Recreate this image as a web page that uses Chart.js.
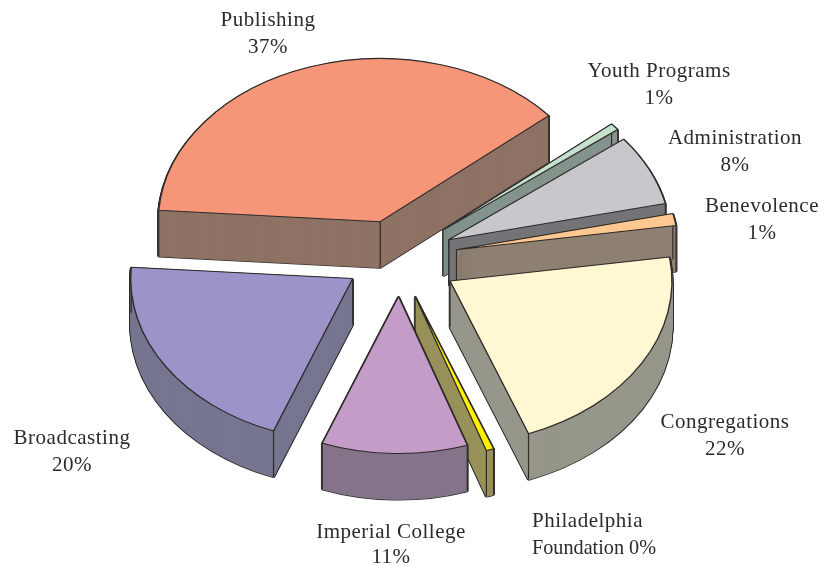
<!DOCTYPE html>
<html>
<head>
<meta charset="utf-8">
<title>Budget pie</title>
<script src="https://cdn.jsdelivr.net/npm/chart.js@4"></script>
<style>
  html, body { margin: 0; padding: 0; background: #fff; }
  #wrap { position: relative; width: 830px; height: 566px; }
</style>
</head>
<body>
<div id="wrap"><canvas id="budgetChart" width="830" height="566"></canvas></div>
<script>
// Data, clockwise starting at the Publishing slice
const categories = ["Publishing", "Youth Programs", "Administration", "Benevolence", "Congregations", "Philadelphia Foundation", "Imperial College", "Broadcasting"];
const shares = [37.6, 0.7, 7.0, 1.2, 21.6, 0.55, 11.0, 20.3];
const percentLabels = ["37%", "1%", "8%", "1%", "22%", "0%", "11%", "20%"];

const topColors = ["#f69679", "#c5e0cc", "#c8c8cc", "#ffc890", "#fff8d2", "#fff000", "#c49cc8", "#9c94c8"];
const wallColors = ["#8e7264", "#84948c", "#757578", "#8e8072", "#96968a", "#97915a", "#85748a", "#767690"];

// Fake 3D settings
const SQUASH = 0.735;
const DEPTH = 46;
const EDGE = "#2e2a2a";
const explode = [52, 60, 58, 61, 62, 55, 52, 52];
const nudgeX = [0, 0, 0, 0, 0, 0, 3, 0];
const reach = [222, 222, 222, 222, 222, 222, 214, 222];
// back slices first so the front ones paint over them
const paintOrder = [0, 1, 2, 3, 7, 4, 5, 6];

// Where the text goes, [x, y, text, align, max width]
const labelSpots = [
  [268, 20, categories[0]], [268, 47, percentLabels[0]],
  [659, 71, categories[1]], [659, 98, percentLabels[1]],
  [735, 138, categories[2]], [735, 165, percentLabels[2]],
  [762, 206, categories[3]], [762, 233, percentLabels[3]],
  [725, 422, categories[4]], [725, 449, percentLabels[4]],
  [532, 521, "Philadelphia", "left"], [532, 548, "Foundation " + percentLabels[5], "left", 124],
  [391, 532, categories[6]], [391, 557, percentLabels[6]],
  [72, 438, categories[7]], [72, 465, percentLabels[7]],
];

// Draw one arc squashed into an ellipse, pushed out along its middle angle
function paintArc(chart, arc, index, drop, opts) {
  const ctx = chart.ctx;
  const mid = (arc.startAngle + arc.endAngle) / 2;
  const saved = arc.options;
  ctx.save();
  ctx.translate(arc.x + nudgeX[index], arc.y + drop);
  ctx.scale(1, SQUASH);
  ctx.translate(-arc.x, -arc.y);
  ctx.translate(Math.cos(mid) * explode[index], Math.sin(mid) * explode[index]);
  arc.options = { ...saved, ...opts };
  arc.draw(ctx);
  arc.options = saved;
  ctx.restore();
}

// Vertical edge of the wall, below a point of the squashed slice
function wallEdge(chart, arc, index, angle, radius) {
  const ctx = chart.ctx;
  const mid = (arc.startAngle + arc.endAngle) / 2;
  const px = arc.x + nudgeX[index] + Math.cos(mid) * explode[index] + Math.cos(angle) * radius;
  const py = arc.y + (Math.sin(mid) * explode[index] + Math.sin(angle) * radius) * SQUASH;
  ctx.beginPath();
  ctx.moveTo(px, py);
  ctx.lineTo(px, py + DEPTH);
  ctx.strokeStyle = EDGE;
  ctx.lineWidth = 1.2;
  ctx.stroke();
}

const pie3d = {
  id: "pie3d",
  beforeDatasetsDraw(chart) {
    const arcs = chart.getDatasetMeta(0).data;
    paintOrder.forEach((i) => {
      const arc = arcs[i];
      arc.outerRadius = reach[i];
      // dark silhouette first, then the wall colour over it
      for (let d = DEPTH; d > 0; d -= 1) {
        paintArc(chart, arc, i, d, { backgroundColor: EDGE, borderColor: EDGE, borderWidth: 3 });
      }
      for (let d = DEPTH; d > 0; d -= 1) {
        paintArc(chart, arc, i, d, { backgroundColor: wallColors[i], borderColor: wallColors[i], borderWidth: 1 });
      }
      wallEdge(chart, arc, i, arc.startAngle, 0);
      wallEdge(chart, arc, i, arc.startAngle, arc.outerRadius);
      wallEdge(chart, arc, i, arc.endAngle, arc.outerRadius);
      paintArc(chart, arc, i, 0, { backgroundColor: topColors[i], borderColor: EDGE, borderWidth: 1.4 });
    });
    return false; // arcs are already on the canvas
  },
  afterDraw(chart) {
    const ctx = chart.ctx;
    ctx.save();
    ctx.font = '21px "Liberation Serif"';
    ctx.fillStyle = "#2b2b2b";
    ctx.textBaseline = "middle";
    labelSpots.forEach(([x, y, text, align, maxWidth]) => {
      ctx.textAlign = align || "center";
      if (maxWidth) {
        ctx.letterSpacing = "0px";
        ctx.fillText(text, x, y, maxWidth);
      } else {
        ctx.letterSpacing = "0.5px";
        ctx.fillText(text, x, y);
      }
    });
    ctx.restore();
  },
};

new Chart(document.getElementById("budgetChart").getContext("2d"), {
  type: "pie",
  data: {
    labels: categories,
    datasets: [
      {
        data: shares,
        backgroundColor: topColors,
        borderColor: EDGE,
        borderWidth: 1,
        clip: false,
      },
    ],
  },
  options: {
    responsive: false,
    animation: false,
    rotation: -86,
    radius: 222,
    layout: { padding: { right: 37, bottom: 50 } },
    events: [],
    plugins: {
      legend: { display: false },
      tooltip: { enabled: false },
    },
  },
  plugins: [pie3d],
});
</script>
</body>
</html>
